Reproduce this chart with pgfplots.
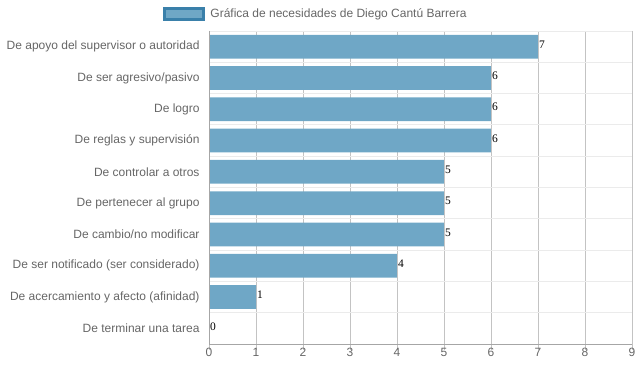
\documentclass[border=0pt]{standalone}
\usepackage{fontspec}
\setmainfont{Liberation Sans}
\newfontfamily\valfont{Liberation Serif}
\usepackage{pgfplots}
\pgfplotsset{compat=1.18}
\definecolor{barc}{RGB}{111,167,198}
\definecolor{barb}{RGB}{58,128,170}
\definecolor{txt}{RGB}{102,102,102}
\definecolor{vgrid}{RGB}{195,195,195}
\definecolor{hgrid}{RGB}{235,235,235}
\begin{document}
\begin{tikzpicture}
\path[use as bounding box] (0,0) rectangle (639pt,372pt);
\begin{axis}[
  at={(209pt,28pt)}, anchor=south west,
  scale only axis, width=423pt, height=313pt,
  /pgf/number format/assume math mode=true,
  xbar, bar width=0.76,
  xmin=0, xmax=9, xtick={0,...,9},
  ymin=-0.5, ymax=9.5, y dir=reverse,
  ytick={0,...,9},
  yticklabels={De apoyo del supervisor o autoridad,De ser agresivo/pasivo,De logro,De reglas y supervisión,De controlar a otros,De pertenecer al grupo,De cambio/no modificar,De ser notificado (ser considerado),De acercamiento y afecto (afinidad),De terminar una tarea},
  minor ytick={-0.5,0.5,...,9.5},
  major tick length=0pt,
  ytick style={draw=none},
  minor tick length=4pt,
  minor tick style={hgrid, line width=0.8pt},
  yminorgrids, minor grid style={hgrid, line width=0.8pt},
  xmajorgrids, major grid style={vgrid, line width=0.8pt},
  xtick style={vgrid, line width=0.8pt},
  x tick style={/pgfplots/major tick length=6pt},
  tick align=outside,
  axis line style={draw=none},
  axis x line*=bottom,
  x axis line style={draw=vgrid!85!black, line width=0.8pt},
  ticklabel style={font=\fontsize{12}{14}\selectfont, text=txt},
  xticklabel style={yshift=-1pt},
  yticklabel style={xshift=-6pt},
  nodes near coords,
  nodes near coords style={font=\valfont\fontsize{11.5}{13}\selectfont, text=black, anchor=west, inner sep=1pt, yshift=2pt},
  legend style={at={(0.2506,1.054)}, anchor=center, draw=none, fill=none, font=\fontsize{12}{14}\selectfont, text=txt, inner sep=0pt, nodes={inner sep=0pt}},
  legend image code/.code={\draw[fill=barc, draw=barb, line width=2.2pt] (0pt,-5.5pt) rectangle (39pt,5.5pt); \path (46pt,0pt);},
  clip=false,
]
\addplot[fill=barc, draw=none] coordinates {(7,0) (6,1) (6,2) (6,3) (5,4) (5,5) (5,6) (4,7) (1,8) (0,9)};
\legend{Gráfica de necesidades de Diego Cantú Barrera}
\draw[vgrid!85!black, line width=0.8pt] (axis cs:0,-0.5) -- (axis cs:0,9.5);
\end{axis}
\end{tikzpicture}
\end{document}
